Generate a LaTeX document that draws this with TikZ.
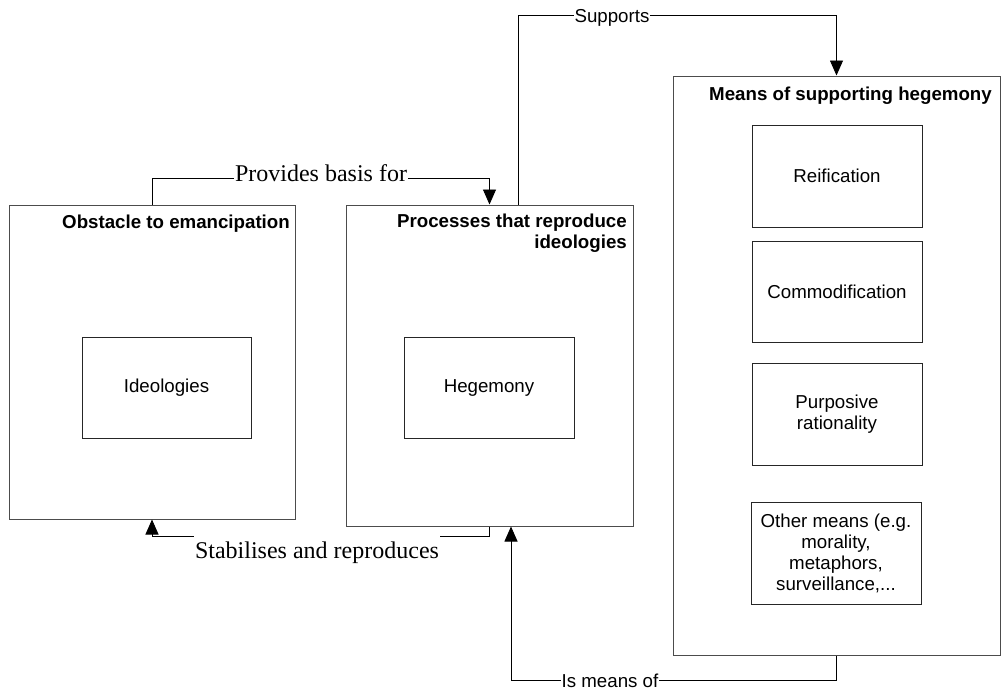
\documentclass[tikz,border=0pt]{standalone}
\usepackage{fontspec}
\setmainfont{Liberation Serif}
\newfontfamily\arialf{Liberation Sans}
\usetikzlibrary{arrows.meta}
\tikzset{
  outerbox/.style={draw=black!70, line width=1pt, inner sep=0pt},
  innerbox/.style={draw=black!85, line width=1pt, inner sep=0pt, minimum width=170pt, minimum height=101pt,
     align=center, font=\arialf\fontsize{18.7}{21}\selectfont},
  titletext/.style={inner sep=0pt, align=right, font=\arialf\bfseries\fontsize{18.7}{21}\selectfont},
  conn/.style={draw=black, line width=0.9pt, -{Triangle[width=13pt,length=15pt]}},
  seriflbl/.style={fill=white, inner xsep=1pt, inner ysep=2pt, font=\fontsize{24}{26}\selectfont},
  sanslbl/.style={fill=white, inner xsep=1pt, inner ysep=2pt, font=\arialf\fontsize{18.7}{21}\selectfont},
}
\begin{document}
\begin{tikzpicture}[x=1pt,y=-1pt]
\useasboundingbox[fill=white] (0,0) rectangle (1004,689);
% outer boxes
\node[outerbox, minimum width=286pt, minimum height=314pt] (A) at (152,362) {};
\node[outerbox, minimum width=287pt, minimum height=321pt] (B) at (489.5,365.5) {};
\node[outerbox, minimum width=327pt, minimum height=579pt] (C) at (836.5,365.5) {};
% titles
\node[titletext, anchor=base east] (At) at (290,228) {Obstacle to emancipation};
\node[titletext, anchor=north east] (Bt) at (627,213.5) {Processes that reproduce\\ideologies};
\node[titletext, anchor=base east] (Ct) at (992,100) {Means of supporting hegemony};
% inner boxes
\node[innerbox, minimum width=169pt] (ideo) at (166.5,387.5) {Ideologies};
\node[innerbox] (hege) at (489,387.5) {Hegemony};
\node[innerbox, minimum height=102pt] (reif) at (837,176) {Reification};
\node[innerbox] (comm) at (837,291.5) {Commodification};
\node[innerbox, minimum height=102pt] (purp) at (837,414) {Purposive\\rationality};
\node[innerbox, minimum height=102pt] (other) at (836,553) {Other means (e.g.\\morality,\\metaphors,\\surveillance,...};
% connectors
\draw[conn] (A.north) -- ++(0,-26) -| (B.north);
\node[seriflbl, anchor=base] (l1) at (321,181) {Provides basis for};
\draw[conn] (B.south) -- ++(0,10) -| (A.south);
\node[seriflbl, anchor=base, inner ysep=6pt] (l2) at (317,558) {Stabilises and reproduces};
\draw[conn] ([xshift=28.5pt]B.north) -- ++(0,-189) -| (C.north);
\node[sanslbl, anchor=base] (l3) at (612,22) {Supports};
\draw[conn] (C.south) -- ++(0,25) -| ([xshift=21.5pt]B.south);
\node[sanslbl, anchor=base] (l4) at (610,687) {Is means of};
\end{tikzpicture}
\end{document}
